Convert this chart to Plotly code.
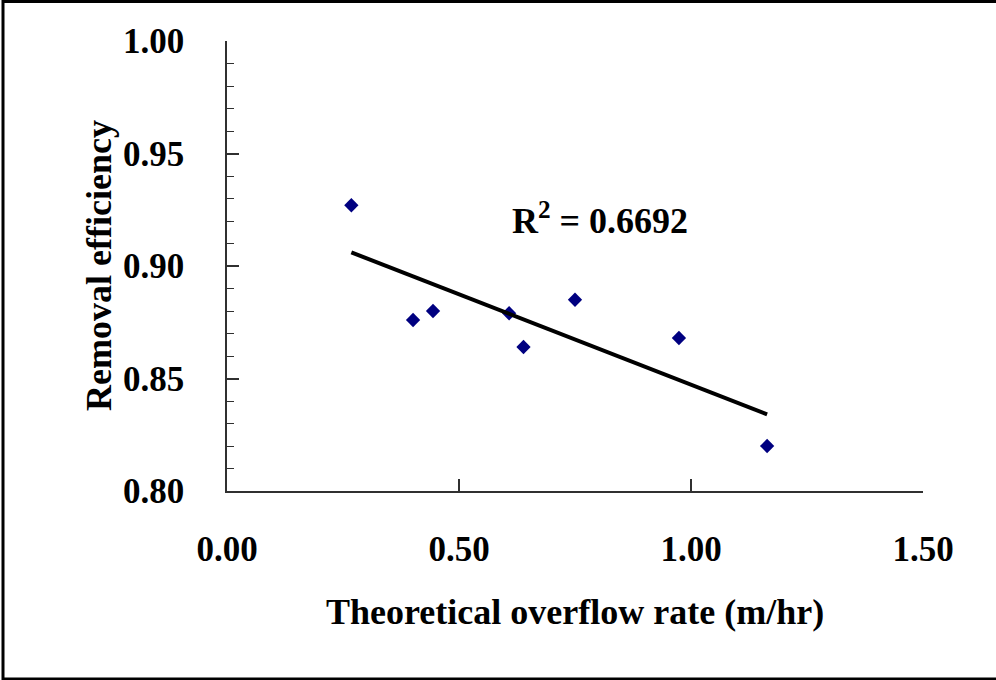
import numpy as np
import plotly.graph_objects as go

# Data
overflow_rate = [0.268, 0.401, 0.444, 0.608, 0.639, 0.750, 0.974, 1.164]
removal_eff = [0.927, 0.876, 0.880, 0.879, 0.864, 0.885, 0.868, 0.820]
r2_label = "R<sup>2</sup> = 0.6692"
x_ticks = [0.0, 0.5, 1.0, 1.5]
y_ticks = [0.80, 0.85, 0.90, 0.95, 1.00]

# Linear trendline from the data
slope, intercept = np.polyfit(overflow_rate, removal_eff, 1)
trend_x = [min(overflow_rate), max(overflow_rate)]
trend_y = [slope * v + intercept for v in trend_x]

W, H = 996, 680
L, R, T, B = 227, 73, 41, 189
pw, ph = W - L - R, H - T - B

def px(xpix):
    return (xpix - L) / pw

def py(ypix):
    return (H - B - ypix) / ph

FONT = "Times New Roman, Liberation Serif, serif"
AX = "#303030"

fig = go.Figure()
fig.add_trace(go.Scatter(
    x=overflow_rate, y=removal_eff, mode="markers",
    marker=dict(symbol="diamond", size=11, color="#000080", line=dict(width=0)),
    showlegend=False, hoverinfo="x+y",
))
fig.add_trace(go.Scatter(
    x=trend_x, y=trend_y, mode="lines",
    line=dict(color="black", width=4),
    showlegend=False, hoverinfo="skip",
))

fig.update_layout(
    width=W, height=H,
    margin=dict(l=L, r=R, t=T, b=B),
    paper_bgcolor="white", plot_bgcolor="white",
    font=dict(family=FONT, color="black"),
    xaxis=dict(
        range=[0, 1.5], tickvals=x_ticks, ticktext=[f"{v:.2f}" for v in x_ticks],
        ticks="inside", ticklen=12, tickcolor=AX, tickwidth=1.5,
        showline=True, linecolor=AX, linewidth=1.5,
        showgrid=False, zeroline=False,
        tickfont=dict(family=FONT, size=35, weight="bold", color="black"),
        ticklabelstandoff=26,
    ),
    yaxis=dict(
        range=[0.80, 1.00], tickvals=y_ticks, ticktext=[f"{v:.2f}" for v in y_ticks],
        ticks="inside", ticklen=12, tickcolor=AX, tickwidth=1.5,
        minor=dict(dtick=0.01, ticks="inside", ticklen=7, tickcolor=AX, tickwidth=1.2, showgrid=False),
        showline=True, linecolor=AX, linewidth=1.5,
        showgrid=False, zeroline=False,
        tickfont=dict(family=FONT, size=35, weight="bold", color="black"),
        ticklabelstandoff=34,
    ),
    annotations=[
        dict(text="Theoretical overflow rate (m/hr)", xref="paper", yref="paper",
             x=0.5, y=py(612), xanchor="center", yanchor="middle", showarrow=False,
             font=dict(family=FONT, size=36, weight="bold", color="black")),
        dict(text="Removal efficiency", xref="paper", yref="paper",
             x=px(99), y=0.5, xanchor="center", yanchor="middle", showarrow=False,
             textangle=-90,
             font=dict(family=FONT, size=36, weight="bold", color="black")),
        dict(text=r2_label, xref="paper", yref="paper",
             x=px(600), y=py(218), xanchor="center", yanchor="middle", showarrow=False,
             font=dict(family=FONT, size=36, weight="bold", color="black")),
    ],
    shapes=[
        dict(type="rect", xref="paper", yref="paper",
             x0=px(3), x1=px(1010), y0=py(679), y1=py(1.5),
             line=dict(color="black", width=3), fillcolor="rgba(0,0,0,0)", layer="above"),
    ],
)

fig.write_html("out.html")
